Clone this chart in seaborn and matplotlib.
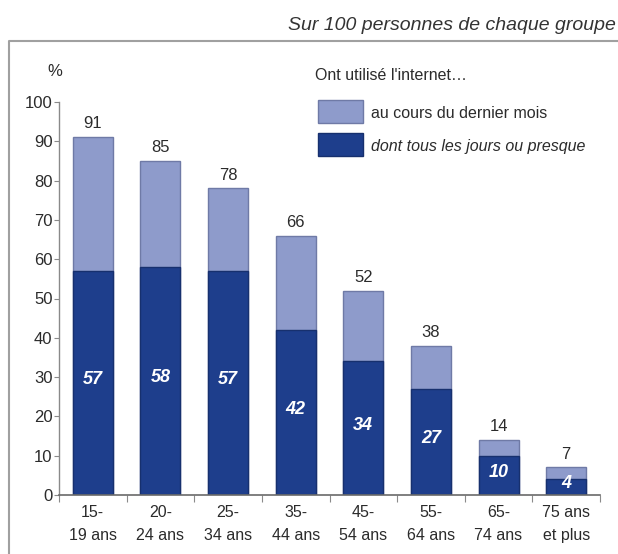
import matplotlib
matplotlib.use("Agg")
import matplotlib.pyplot as plt
from matplotlib.patches import Rectangle
from matplotlib.lines import Line2D
import seaborn as sns
import pandas as pd

# ---- data ----
categories = ["15-\n19 ans", "20-\n24 ans", "25-\n34 ans", "35-\n44 ans",
              "45-\n54 ans", "55-\n64 ans", "65-\n74 ans", "75 ans\net plus"]
last_month = [91, 85, 78, 66, 52, 38, 14, 7]
daily = [57, 58, 57, 42, 34, 27, 10, 4]
yticks = [0, 10, 20, 30, 40, 50, 60, 70, 80, 90, 100]

subtitle = "Sur 100 personnes de chaque groupe"
legend_title = "Ont utilisé l'internet…"
label_month = "au cours du dernier mois"
label_daily = "dont tous les jours ou presque"

LIGHT = "#8e9bcb"
LIGHT_EDGE = "#6f7aa6"
DARK = "#1e3e8c"
DARK_EDGE = "#17306e"
TXT = "#2b2b2b"

sns.set_theme(style="white")
plt.rcParams["font.family"] = ["Liberation Sans", "DejaVu Sans"]

df = pd.DataFrame({"cat": categories, "month": last_month, "daily": daily})

W, H = 618, 554
fig = plt.figure(figsize=(W / 100, H / 100), dpi=100)
fig.patch.set_facecolor("white")
ax = fig.add_axes([59 / W, 59 / H, 541 / W, 393 / H])

sns.barplot(data=df, x="cat", y="month", color=LIGHT, width=0.59,
            edgecolor=LIGHT_EDGE, linewidth=1.0, saturation=1, ax=ax)
sns.barplot(data=df, x="cat", y="daily", color=DARK, width=0.59,
            edgecolor=DARK_EDGE, linewidth=1.0, saturation=1, ax=ax)

ax.set_xlim(-0.5, len(categories) - 0.5)
ax.set_ylim(0, 100)
ax.set_xlabel("")
ax.set_ylabel("")
ax.set_facecolor("white")

for s in ["top", "right"]:
    ax.spines[s].set_visible(False)
ax.spines["left"].set_color("#8a8a8a")
ax.spines["left"].set_linewidth(1.0)
ax.spines["bottom"].set_color("#6a6a6a")
ax.spines["bottom"].set_linewidth(1.2)

ax.set_yticks(yticks)
ax.set_yticklabels([str(v) for v in yticks], fontsize=12, color=TXT)
ax.tick_params(axis="y", direction="out", length=3.6, width=0.8, color="#8a8a8a",
               pad=1, left=True)

ax.set_xticks(range(len(categories)))
ax.set_xticklabels(categories, fontsize=11.5, color=TXT, linespacing=1.65)
ax.tick_params(axis="x", length=0, pad=7, bottom=True)
ax.set_xticks([i - 0.5 for i in range(len(categories) + 1)], minor=True)
ax.tick_params(axis="x", which="minor", direction="out", length=5, width=0.8,
               color="#8a8a8a", bottom=True)

# value labels
for i, (m, d) in enumerate(zip(last_month, daily)):
    ax.text(i, m + 1.5, str(m), ha="center", va="bottom", fontsize=12, color=TXT)
    ax.text(i, d / 2 + 0.8, str(d), ha="center", va="center", fontsize=13,
            color="white", fontweight="bold", fontstyle="italic")

# % label
fig.text(55 / W, 1 - 72 / H, "%", ha="center", va="center", fontsize=12, color=TXT)

# legend (manual)
fig.text(315 / W, 1 - 76 / H, legend_title, ha="left", va="center",
         fontsize=11.5, color=TXT)
fig.patches.append(Rectangle((318 / W, 1 - 123 / H), 45 / W, 23 / H,
                             transform=fig.transFigure, facecolor=LIGHT,
                             edgecolor=LIGHT_EDGE, linewidth=1.0))
fig.patches.append(Rectangle((318 / W, 1 - 156 / H), 45 / W, 23 / H,
                             transform=fig.transFigure, facecolor=DARK,
                             edgecolor=DARK_EDGE, linewidth=1.0))
fig.text(371 / W, 1 - 114 / H, label_month, ha="left", va="center",
         fontsize=11.5, color=TXT)
fig.text(371 / W, 1 - 147 / H, label_daily, ha="left", va="center",
         fontsize=11.5, color=TXT, fontstyle="italic")

# subtitle and frame
fig.text(616 / W, 1 - 26 / H, subtitle, ha="right", va="center", fontsize=14,
         color="#333333", fontstyle="italic")
fig.lines.append(Line2D([9 / W, 9 / W, 1.0], [0, 1 - 41 / H, 1 - 41 / H],
                        transform=fig.transFigure, color="#a0a0a0", linewidth=1.5))

fig.savefig("out.png", dpi=100)
